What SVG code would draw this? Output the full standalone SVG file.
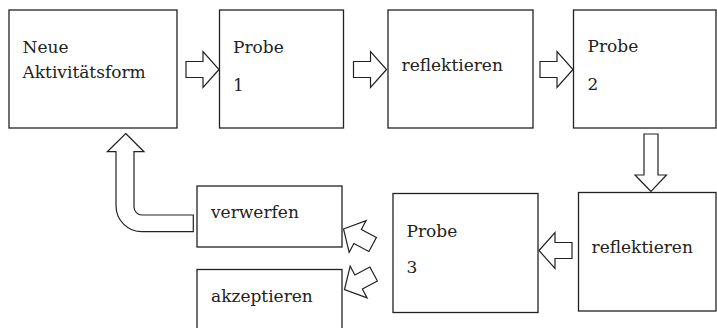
<svg xmlns="http://www.w3.org/2000/svg" width="717" height="328" viewBox="0 0 717 328">
<style>
.box{fill:#fff;stroke:#222;stroke-width:1.3}
.arr{fill:#fff;stroke:#222;stroke-width:1.2;stroke-linejoin:miter}
</style>
<defs>
<polygon id="ah" points="0,0 16,-18 16,-8 33,-8 33,8 16,8 16,18"/>
</defs>
<rect width="717" height="328" fill="#fff"/>
<g font-family="DejaVu Serif, Liberation Serif, serif" font-size="17" fill="#222">
<g id="n1"><rect class="box" x="9" y="10" width="168" height="118"/><text x="22.5" y="52.5">Neue</text><text x="22.5" y="78">Aktivitätsform</text></g>
<g id="n2"><rect class="box" x="219.5" y="10" width="124" height="118"/><text x="233" y="52.5">Probe</text><text x="233" y="90.5">1</text></g>
<g id="n3"><rect class="box" x="388" y="10" width="145" height="118"/><text x="401.5" y="70.5">reflektieren</text></g>
<g id="n4"><rect class="box" x="573.5" y="10" width="142.5" height="118"/><text x="587.5" y="51.5">Probe</text><text x="587.5" y="89.5">2</text></g>
<g id="n5"><rect class="box" x="578.5" y="192.5" width="137.5" height="118.5"/><text x="591.5" y="253">reflektieren</text></g>
<g id="n6"><rect class="box" x="393" y="193.5" width="145" height="119"/><text x="406.5" y="236.5">Probe</text><text x="406.5" y="272.5">3</text></g>
<g id="n7"><rect class="box" x="197" y="186" width="145" height="61"/><text x="211" y="218">verwerfen</text></g>
<g id="n8"><rect class="box" x="197" y="269.5" width="145" height="70"/><text x="211" y="301.5">akzeptieren</text></g>
</g>
<g id="connectors">
<use href="#ah" class="arr" transform="translate(219,69.5) rotate(180)"/>
<use href="#ah" class="arr" transform="translate(386.5,69.5) rotate(180)"/>
<use href="#ah" class="arr" transform="translate(573,69.5) rotate(180)"/>
<polygon class="arr" points="651,191.5 635,175 644,175 644,134 658,134 658,175 666.5,175"/>
<use href="#ah" class="arr" transform="translate(539,250.5)"/>
<use href="#ah" class="arr" transform="translate(343.5,229) rotate(28)"/>
<use href="#ah" class="arr" transform="translate(344.5,289.5) rotate(-28)"/>
<path class="arr" d="M125.7,133.5 L144,151.7 L134,151.7 L134,207 A8,8 0 0 0 142,215 L193.3,215 L193.3,231.7 L142,231.7 A26,26 0 0 1 116,205.7 L116,151.7 L107.3,151.7 Z"/>
</g>
</svg>
